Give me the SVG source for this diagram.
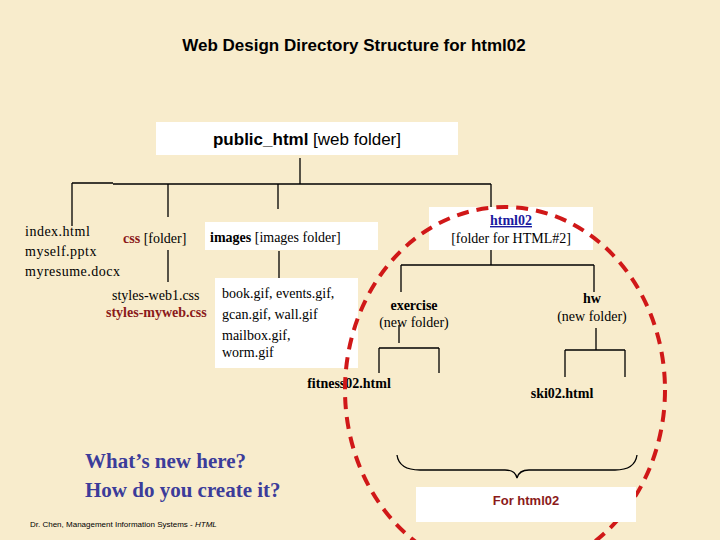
<svg xmlns="http://www.w3.org/2000/svg" width="720" height="540" viewBox="0 0 720 540">
<style>
.ln{stroke:#000;stroke-width:1.3;fill:none}
.bx{fill:#fff}
.s{font-family:"Liberation Serif",serif;font-size:14px;fill:#000}
.a{font-family:"Liberation Sans",sans-serif;fill:#000}
.red{fill:#8b1a1a;font-weight:bold}
.q{font-family:"Liberation Serif",serif;font-size:21px;font-weight:bold;fill:#3c3c9a}
</style>
<rect width="720" height="540" fill="#f8eccc"/>
<text class="a" x="354" y="51" font-size="17" font-weight="bold" text-anchor="middle">Web Design Directory Structure for html02</text>
<g id="connectors">
<path class="ln" d="M300 158V184M72 183H113M113 184H491M72 183V226M168 184V217M278 184V209M491 184V207"/>
<path class="ln" d="M168 250V282M279 251V281"/>
<path class="ln" d="M491 250V265M401 265H594M401 265V292M594 265V292"/>
<path class="ln" d="M399 325V343M379 348H439M379 348V373M439 348V373"/>
<path class="ln" d="M596 328V350M565 350H625M565 350V377M625 350V377"/>
<path class="ln" d="M397 455Q399 470 420 470H505Q515 470 517 478Q519 470 529 470H615Q635 470 637 455"/>
</g>
<g id="root"><rect class="bx" x="156" y="122" width="302" height="33"/>
<text class="a" x="307" y="145" font-size="17" text-anchor="middle"><tspan font-weight="bold">public_html</tspan> [web folder]</text></g>
<g id="rootfiles"><text class="s" x="25" y="236" letter-spacing="0.5">index.html</text><text class="s" x="25" y="256" letter-spacing="0.5">myself.pptx</text><text class="s" x="25" y="276" letter-spacing="0.5">myresume.docx</text></g>
<g id="css"><text class="s" x="123" y="243"><tspan class="red">css</tspan> [folder]</text></g>
<g id="cssfiles"><text class="s" x="112" y="300" font-size="13">styles-web1.css</text><text class="s red" x="106" y="317" font-size="13">styles-myweb.css</text></g>
<g id="images"><rect class="bx" x="205" y="222" width="173" height="28"/><text class="s" x="210" y="242"><tspan font-weight="bold">images</tspan> [images folder]</text></g>
<g id="imagefiles"><rect class="bx" x="215" y="278" width="143" height="90"/>
<text class="s" x="222" y="298">book.gif, events.gif,</text><text class="s" x="222" y="319">gcan.gif, wall.gif</text><text class="s" x="222" y="340">mailbox.gif,</text><text class="s" x="222" y="357">worm.gif</text></g>
<g id="html02"><rect class="bx" x="429" y="207" width="164" height="43"/>
<text class="s" x="511" y="225" text-anchor="middle" font-weight="bold" text-decoration="underline" style="fill:#1a1aa0">html02</text>
<text class="s" x="511" y="243" text-anchor="middle">[folder for HTML#2]</text></g>
<g id="exercise"><text class="s" x="414" y="310" font-size="13" font-weight="bold" text-anchor="middle">exercise</text><text class="s" x="414" y="327" font-size="13" text-anchor="middle">(new folder)</text></g>
<g id="hw"><text class="s" x="592" y="303" font-size="13" font-weight="bold" text-anchor="middle">hw</text><text class="s" x="592" y="321" font-size="13" text-anchor="middle">(new folder)</text></g>
<g id="fitness"><text class="s" x="349" y="388" font-size="13" font-weight="bold" text-anchor="middle">fitness02.html</text></g>
<g id="ski"><text class="s" x="562" y="398" font-size="13" font-weight="bold" text-anchor="middle">ski02.html</text></g>
<ellipse cx="505" cy="390" rx="160" ry="183" fill="none" stroke="#d01818" stroke-width="4" stroke-dasharray="12 8"/>
<g id="for"><rect class="bx" x="416" y="487" width="220" height="35"/><text class="a" x="526" y="505" font-size="13" font-weight="bold" text-anchor="middle" style="fill:#8b1a1a">For html02</text></g>
<text class="q" x="85" y="468">What’s new here?</text>
<text class="q" x="85" y="497">How do you create it?</text>
<text class="a" x="30" y="527" font-size="8">Dr. Chen, Management Information Systems - <tspan font-style="italic">HTML</tspan></text>
</svg>
